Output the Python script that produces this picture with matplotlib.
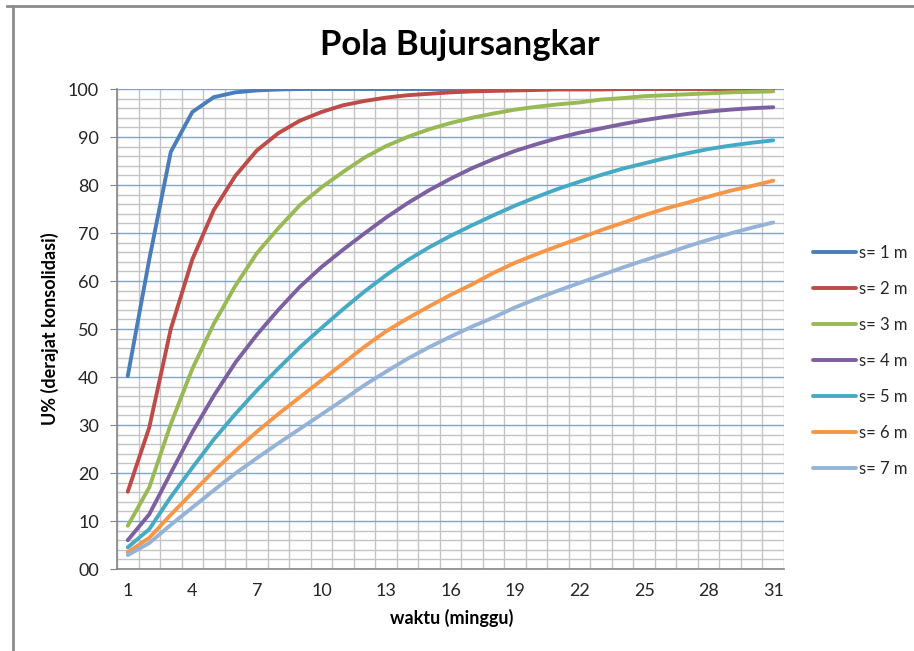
import matplotlib
import matplotlib.pyplot as plt
from matplotlib.lines import Line2D
from matplotlib.ticker import FixedLocator

matplotlib.use("Agg")

plt.rcParams["font.family"] = ["Lato", "DejaVu Sans"]

weeks = list(range(1, 32))
tick_weeks = [1, 4, 7, 10, 13, 16, 19, 22, 25, 28, 31]
u_ticks = [0, 10, 20, 30, 40, 50, 60, 70, 80, 90, 100]
labels = ["s= 1 m", "s= 2 m", "s= 3 m", "s= 4 m", "s= 5 m", "s= 6 m", "s= 7 m"]

u_s1 = [40.2, 64.5, 86.9, 95.2, 98.3, 99.3, 99.7, 99.9] + [100.0] * 23
u_s2 = [16.1, 29.5, 50.0, 64.5, 74.8, 81.9, 87.2, 90.8, 93.4, 95.2, 96.6, 97.5,
        98.2, 98.7, 99.0, 99.3, 99.5, 99.6, 99.7, 99.8, 99.9, 99.9, 99.9,
        100.0, 100.0, 100.0, 100.0, 100.0, 100.0, 100.0, 100.0]
u_s3 = [9.0, 17.0, 30.2, 41.7, 51.1, 59.0, 65.8, 71.0, 75.8, 79.5, 82.7, 85.7,
        88.1, 90.0, 91.6, 92.9, 94.0, 94.9, 95.7, 96.3, 96.8, 97.2, 97.8, 98.1,
        98.5, 98.7, 98.9, 99.1, 99.3, 99.4, 99.5]
u_s4 = [6.0, 11.4, 20.0, 28.5, 36.1, 43.0, 48.8, 54.0, 58.8, 62.9, 66.5, 69.9,
        73.2, 76.2, 78.9, 81.3, 83.5, 85.4, 87.1, 88.5, 89.8, 90.9, 91.8, 92.7,
        93.5, 94.2, 94.8, 95.3, 95.7, 96.0, 96.2]
u_s5 = [4.5, 8.3, 15.0, 21.1, 27.0, 32.3, 37.2, 41.8, 46.2, 50.2, 54.1, 57.8,
        61.2, 64.3, 67.0, 69.4, 71.6, 73.7, 75.7, 77.5, 79.2, 80.7, 82.1, 83.4,
        84.5, 85.6, 86.6, 87.5, 88.2, 88.8, 89.3]
u_s6 = [3.5, 6.5, 11.3, 15.9, 20.4, 24.6, 28.6, 32.3, 35.8, 39.3, 42.8, 46.3,
        49.5, 52.2, 54.7, 57.1, 59.3, 61.7, 63.8, 65.6, 67.3, 68.9, 70.6, 72.1,
        73.7, 75.1, 76.3, 77.6, 78.8, 79.8, 80.9]
u_s7 = [2.9, 5.4, 9.2, 12.8, 16.4, 19.9, 23.1, 26.2, 29.2, 32.2, 35.2, 38.3,
        41.1, 43.8, 46.2, 48.4, 50.5, 52.4, 54.5, 56.3, 58.0, 59.6, 61.2, 62.8,
        64.3, 65.7, 67.2, 68.6, 69.9, 71.1, 72.2]

series = [u_s1, u_s2, u_s3, u_s4, u_s5, u_s6, u_s7]
colors = ["#4A7EBB", "#BE4B48", "#98B954", "#7D60A0", "#46AAC5", "#F79646", "#95B3D7"]

fig = plt.figure(figsize=(9.14, 6.51), dpi=100)
ax = fig.add_axes([117 / 914, 1 - 569 / 651, (784 - 117) / 914, (569 - 89) / 651])

for values, label, color in zip(series, labels, colors):
    ax.plot(weeks, values, color=color, linewidth=2.8, label=label,
            solid_capstyle="round", solid_joinstyle="round", zorder=3)

ax.set_xlim(0.5, 31.5)
ax.set_ylim(0, 100)

# category axis: gridlines between categories, labels every 3 weeks
ax.xaxis.set_major_locator(FixedLocator(tick_weeks))
ax.xaxis.set_minor_locator(FixedLocator([w + 0.5 for w in range(0, 32)]))
ax.set_xticklabels([str(w) for w in tick_weeks])
ax.tick_params(axis="x", which="both", length=0, labelsize=13, pad=10, colors="#262626")
ax.grid(True, axis="x", which="minor", color="#C4C4C4", linewidth=1.0, zorder=1)

minor_u = [v for v in range(0, 101, 2) if v % 10]
ax.yaxis.set_major_locator(FixedLocator(u_ticks))
ax.yaxis.set_minor_locator(FixedLocator(minor_u))
ax.set_yticklabels([f"{v:02d}" for v in u_ticks])
ax.tick_params(axis="y", which="major", length=5, direction="out", color="#868686",
               labelsize=13, pad=8, labelcolor="#262626")
ax.tick_params(axis="y", which="minor", length=0)
ax.grid(True, axis="y", which="minor", color="#C4C4C4", linewidth=1.0, zorder=1)
ax.grid(True, axis="y", which="major", color="#7FA3D3", linewidth=1.0, zorder=2)

for side in ["top", "right"]:
    ax.spines[side].set_visible(False)
for side in ["left", "bottom"]:
    ax.spines[side].set_color("#868686")
    ax.spines[side].set_linewidth(1.2)

fig.text(0.503, 1 - 45 / 651, "Pola Bujursangkar", ha="center", va="center",
         fontsize=25, fontweight="bold", color="#000000")
ax.set_ylabel("U% (derajat konsolidasi)", fontsize=13, fontweight="bold",
              color="#000000", labelpad=6)
fig.text(452 / 914, 1 - 618 / 651, "waktu (minggu)", ha="center", va="center",
         fontsize=13, fontweight="bold", color="#000000")

leg = ax.legend(loc="center left", bbox_to_anchor=(813 / 914, 1 - 361 / 651),
                bbox_transform=fig.transFigure, frameon=False, fontsize=12,
                handlelength=2.55, handletextpad=0.2, labelspacing=1.2,
                borderaxespad=0, borderpad=0)
for text in leg.get_texts():
    text.set_color("#262626")

# chart frame
fig.add_artist(Line2D([7 / 914, 1], [1 - 5.5 / 651] * 2, transform=fig.transFigure,
                      color="#8C8C8C", linewidth=2))
fig.add_artist(Line2D([13 / 914] * 2, [0, 1 - 5.5 / 651], transform=fig.transFigure,
                      color="#8C8C8C", linewidth=2))

fig.savefig("out.png", dpi=100, facecolor="white")
plt.close(fig)
